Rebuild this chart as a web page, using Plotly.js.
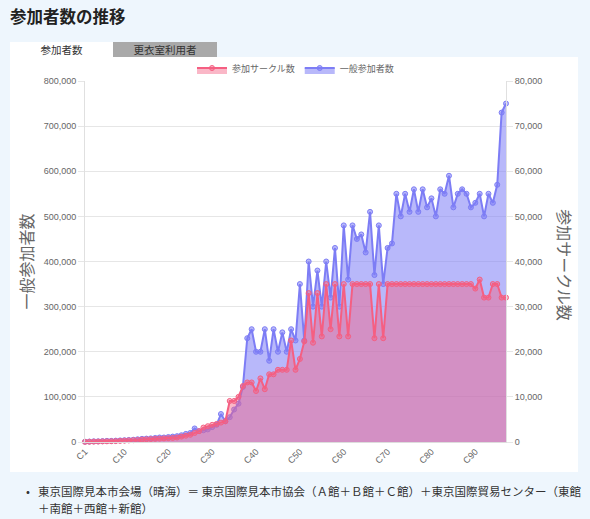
<!DOCTYPE html>
<html><head><meta charset="utf-8">
<script src="https://cdn.plot.ly/plotly-3.0.1.min.js"></script>
<style>
html,body{margin:0;padding:0;width:590px;height:519px;overflow:hidden;background:#eef6fd;font-family:"Liberation Sans","Noto Sans CJK JP",sans-serif;}
#title{position:absolute;left:10px;top:4px;font-size:16.5px;font-weight:bold;color:#222;font-family:"Noto Sans CJK JP",sans-serif;}
.tab{position:absolute;top:42px;height:15px;width:103px;font-size:10.5px;line-height:15px;text-align:center;color:#333;font-family:"Noto Sans CJK JP",sans-serif;}
#tab1{left:10px;background:#fff;}
#tab2{left:113px;background:#a9a9a9;width:104px;}
#panel{position:absolute;left:10px;top:57px;width:568px;height:415px;background:#fff;}
#chart{position:absolute;left:0;top:0;width:568px;height:415px;}
#note{position:absolute;left:26px;top:483px;font-size:11.5px;line-height:17px;color:#333;font-family:"Noto Sans CJK JP",sans-serif;white-space:nowrap;}
#note .b{position:absolute;left:0;top:0;}
#note .t{position:absolute;left:12px;top:0;}
</style></head>
<body>
<div id="title">参加者数の推移</div>
<div class="tab" id="tab1">参加者数</div>
<div class="tab" id="tab2">更衣室利用者</div>
<div id="panel"><div id="chart"></div></div>
<div id="note"><span class="b">•</span><span class="t">東京国際見本市会場（晴海）＝ 東京国際見本市協会（Ａ館＋Ｂ館＋Ｃ館）＋東京国際貿易センター（東館<br>＋南館＋西館＋新館）</span></div>
<script>
const categories = Array.from({length: 97}, (_, i) => 'C' + (i + 1));

const visitors = [
  700, 1000, 1500, 1500, 2000, 2500, 2500, 3000, 3500, 4000,
  4500, 5000, 6000, 7000, 7500, 8000, 9000, 10000, 10000, 11000,
  12000, 13000, 15000, 18000, 20000, 30000, 24000, 26000, 28000, 33000,
  38000, 62000, 46000, 55000, 72000, 85000, 122000,
  230000, 250000, 200000, 200000, 250000, 180000, 250000, 200000, 243000, 200000,
  250000, 225000, 350000, 225000, 400000, 300000, 380000, 300000, 400000, 320000,
  430000, 300000, 480000, 360000, 480000, 450000, 460000, 420000, 510000, 370000,
  480000, 350000, 430000, 440000, 550000, 500000, 550000, 510000, 560000, 510000,
  560000, 520000, 540000, 500000, 560000, 550000, 590000, 520000, 550000, 560000,
  550000, 520000, 530000, 550000, 500000, 550000, 530000, 570000, 730000, 750000
];

const circles = [
  32, 54, 80, 100, 130, 150, 170, 200, 250, 300,
  350, 400, 450, 550, 600, 650, 700, 750, 800, 850,
  900, 1000, 1200, 1400, 1600, 2000, 2400, 3200, 3500, 3800,
  4000, 4300, 4600, 9100, 9100, 10000, 12400,
  13200, 13200, 11300, 14100, 11700, 15000, 15000, 16000, 16000, 16000,
  22500, 16000, 18400, 22300, 33000, 22000, 33000, 23400, 35000, 25000,
  35000, 23400, 35000, 23400, 35000, 35000, 35000, 35000, 35000, 23000,
  35000, 23000, 35000, 35000, 35000, 35000, 35000, 35000, 35000, 35000,
  35000, 35000, 35000, 35000, 35000, 35000, 35000, 35000, 35000, 35000,
  35000, 35000, 34000, 36000, 32000, 32000, 35000, 35000, 32000, 32000
];

const xTicks = ['C1','C10','C20','C30','C40','C50','C60','C70','C80','C90'];
const leftTicks = [0,100000,200000,300000,400000,500000,600000,700000,800000];
const rightTicks = [0,10000,20000,30000,40000,50000,60000,70000,80000];

const blue = 'rgb(125,125,245)', blueFill = 'rgba(125,125,245,0.55)';
const red = 'rgb(245,95,130)', redFill = 'rgba(245,95,130,0.45)';
const font = '"Liberation Sans","Noto Sans CJK JP",sans-serif';
const cjk = '"Noto Sans CJK JP",sans-serif';

const traces = [
  {x: categories, y: visitors, name: '一般参加者数', type: 'scatter', mode: 'lines+markers',
   fill: 'tozeroy', fillcolor: blueFill, line: {color: blue, width: 2},
   marker: {size: 5, color: blueFill, line: {color: blue, width: 1}}, cliponaxis: false, yaxis: 'y'},
  {x: categories, y: circles, name: '参加サークル数', type: 'scatter', mode: 'lines+markers',
   fill: 'tozeroy', fillcolor: redFill, line: {color: red, width: 2},
   marker: {size: 5, color: redFill, line: {color: red, width: 1}}, cliponaxis: false, yaxis: 'y2'}
];

const layout = {
  width: 568, height: 415,
  margin: {l: 75, r: 72, t: 24, b: 30, autoexpand: false},
  paper_bgcolor: '#fff', plot_bgcolor: '#fff',
  font: {family: font, size: 9, color: '#666'},
  showlegend: true,
  legend: {orientation: 'h', x: 0.5, xanchor: 'center', y: 1.036, yanchor: 'middle',
           traceorder: 'reversed', font: {size: 9, color: '#666', family: cjk}},
  xaxis: {type: 'category', range: [0, 96], tickmode: 'array', tickvals: xTicks, ticktext: xTicks,
          tickangle: -45, showgrid: false, zeroline: false, showline: true, linecolor: '#ddd',
          tickfont: {size: 9, color: '#666'}, ticks: '', automargin: false},
  yaxis: {range: [0, 800000], tickmode: 'array', tickvals: leftTicks, tickformat: ',',
          gridcolor: '#e6e6e6', zeroline: false, showline: true, linecolor: '#e0e0e0', automargin: false,
          ticks: 'outside', ticklen: 6, tickcolor: '#e6e6e6', tickfont: {size: 9, color: '#666'}},
  yaxis2: {range: [0, 80000], overlaying: 'y', side: 'right', tickmode: 'array', tickvals: rightTicks,
           tickformat: ',', showgrid: false, zeroline: false, showline: true, linecolor: '#e0e0e0', automargin: false,
           ticks: 'outside', ticklen: 6, tickcolor: '#e6e6e6', tickfont: {size: 9, color: '#666'}},
  annotations: [
    {text: '一般参加者数', xref: 'paper', yref: 'paper', x: -0.1425, y: 0.50, textangle: -90,
     showarrow: false, xanchor: 'center', yanchor: 'middle', font: {size: 16, color: '#666', family: cjk}},
    {text: '参加サークル数', xref: 'paper', yref: 'paper', x: 1.14, y: 0.49, textangle: 90,
     showarrow: false, xanchor: 'center', yanchor: 'middle', font: {size: 16, color: '#666', family: cjk}}
  ]
};

Plotly.newPlot('chart', traces, layout, {displayModeBar: false, staticPlot: true});
</script>
</body></html>
